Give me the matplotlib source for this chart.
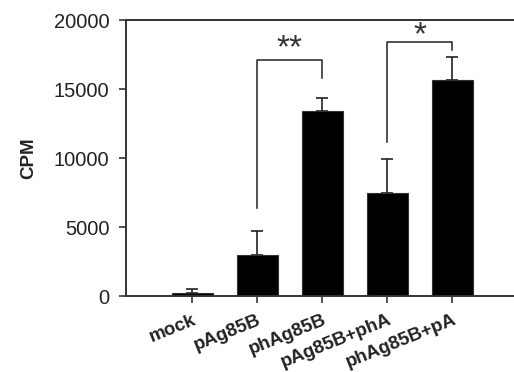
import matplotlib.pyplot as plt
import matplotlib.transforms as mtransforms
import numpy as np

plt.rcParams['font.family'] = ['Liberation Sans', 'DejaVu Sans']

# Data
groups = ['mock', 'pAg85B', 'phAg85B', 'pAg85B+phA', 'phAg85B+pA']
cpm = [250, 2950, 13430, 7440, 15650]
cpm_err = [250, 1800, 900, 2500, 1670]

# significance brackets: (left bar, right bar, left leg bottom, top, right leg bottom, label, label y)
brackets = [
    (1, 2, 6380, 17100, 15800, '**', 17950),
    (3, 4, 11160, 18400, 17830, '*', 18900),
]

fig = plt.figure(figsize=(5.14, 3.72), dpi=100)
ax = fig.add_axes([0.245, 0.204, 0.755, 0.742])

x = np.arange(len(groups))
ax.bar(x, cpm, width=0.63, color='black', edgecolor='#333333', linewidth=0.8, zorder=2)
ax.errorbar(x, cpm, yerr=[np.zeros(len(cpm)), cpm_err], fmt='none', ecolor='#222222',
            elinewidth=1.2, capsize=4, capthick=1.2, zorder=1)

for x1, x2, y1, ytop, y2, label, ylab in brackets:
    ax.plot([x1, x1, x2, x2], [y1, ytop, ytop, y2], color='#222222', lw=1.1)
    ax.text((x1 + x2) / 2, ylab, label, ha='center', va='center',
            fontsize=24, color='#333333')

ax.set_xlim(-1.02, 4.95)
ax.set_ylim(0, 20000)
ax.set_yticks([0, 5000, 10000, 15000, 20000])
ax.set_xticks(x)
ax.set_xticklabels(groups, rotation=22, ha='right', va='top', rotation_mode='anchor',
                   fontweight='bold', fontsize=13.5)
# nudge labels slightly right so they end at the tick
offset = mtransforms.ScaledTranslation(5 / 100, 0, fig.dpi_scale_trans)
for lab in ax.get_xticklabels():
    lab.set_transform(lab.get_transform() + offset)

ax.tick_params(axis='y', labelsize=14.5, direction='out', length=5, width=1.2, colors='#333333',
               labelcolor='#222222', pad=7)
ax.tick_params(axis='x', direction='out', length=5, width=1.2, colors='#333333',
               labelcolor='#222222', pad=6)
ax.set_ylabel('CPM', fontweight='bold', fontsize=13.5, labelpad=12, color='#222222')

ax.spines['right'].set_visible(False)
for s in ['left', 'bottom', 'top']:
    ax.spines[s].set_linewidth(1.4)
    ax.spines[s].set_color('#333333')

fig.savefig('out.png', dpi=100)
